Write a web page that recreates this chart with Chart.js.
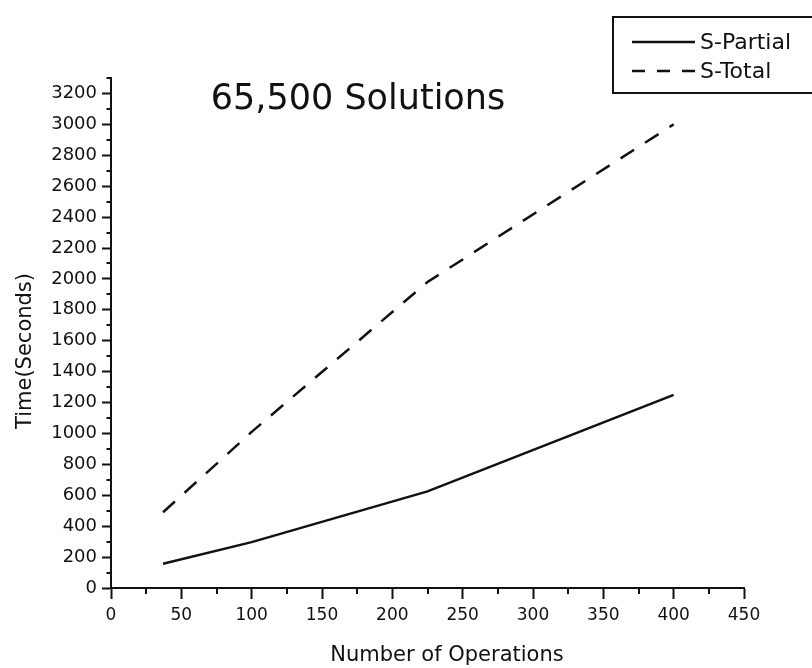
<!DOCTYPE html>
<html lang="en">
<head>
    <meta charset="UTF-8">
    <title>65,500 Solutions</title>
    <script src="https://cdn.jsdelivr.net/npm/chart.js@4.4.0/dist/chart.umd.min.js"></script>
    <style>
        body { margin: 0; background: #fff; }
        canvas { display: block; }
    </style>
</head>
<body>
<canvas id="timeChart" width="812" height="668"></canvas>
<script>

    // data
    var operations = [37, 100, 225, 400];
    var sPartial = [157, 297, 625, 1250];
    var sTotal = [490, 1010, 1980, 3000];
    var seriesNames = ["S-Partial", "S-Total"];
    var yTicks = [0, 200, 400, 600, 800, 1000, 1200, 1400, 1600, 1800, 2000,
        2200, 2400, 2600, 2800, 3000, 3200];
    var xTicks = [0, 50, 100, 150, 200, 250, 300, 350, 400, 450];

    var font = "DejaVu Sans";
    var ink = "#111";

    function points(ys) {
        return operations.map(function (x, i) { return {x: x, y: ys[i]}; });
    }

    // title, axis titles, legend box and minor ticks
    var extras = {
        id: 'extras',
        afterDraw: function (chart) {
            var ctx = chart.ctx;
            var xs = chart.scales.x, ys = chart.scales.y;
            var area = chart.chartArea;
            ctx.save();

            // minor ticks, halfway between the major ones
            ctx.strokeStyle = ink;
            ctx.lineWidth = 2;
            ctx.beginPath();
            for (var i = 0; i < xTicks.length - 1; i++) {
                var px = Math.round(xs.getPixelForValue((xTicks[i] + xTicks[i + 1]) / 2));
                ctx.moveTo(px, area.bottom);
                ctx.lineTo(px, area.bottom + 6);
            }
            for (var j = 0; j < yTicks.length; j++) {
                var py = Math.round(ys.getPixelForValue(yTicks[j] + 100));
                ctx.moveTo(area.left, py);
                ctx.lineTo(area.left - 4.5, py);
            }
            ctx.stroke();

            ctx.fillStyle = ink;
            ctx.textBaseline = 'middle';

            // title inside the plot
            ctx.font = "35px '" + font + "'";
            ctx.textAlign = 'center';
            ctx.fillText("65,500 Solutions", 358, 100);

            // axis titles
            ctx.font = "21px '" + font + "'";
            ctx.fillText("Number of Operations", 447, 656);
            ctx.save();
            ctx.translate(26, 351);
            ctx.rotate(-Math.PI / 2);
            ctx.fillText("Time(Seconds)", 0, 0);
            ctx.restore();

            // legend
            ctx.lineWidth = 2;
            ctx.strokeRect(613, 17, 230, 76);
            var rows = [42, 71];
            ctx.font = "22px '" + font + "'";
            ctx.textAlign = 'left';
            chart.data.datasets.forEach(function (ds, i) {
                ctx.beginPath();
                ctx.lineWidth = 2.5;
                ctx.setLineDash(ds.borderDash ? [13, 12] : []);
                ctx.moveTo(632, rows[i]);
                ctx.lineTo(695, rows[i]);
                ctx.stroke();
                ctx.setLineDash([]);
                ctx.fillText(ds.label, 700, rows[i] + 1);
            });

            ctx.restore();
        }
    };

    function plain(v) { return String(v); }

    var config = {
        type: 'line',
        data: {
            datasets: [{
                label: seriesNames[0],
                data: points(sPartial),
                borderColor: ink,
                borderWidth: 2.5,
                pointRadius: 0,
                tension: 0
            },
                {
                    label: seriesNames[1],
                    data: points(sTotal),
                    borderColor: ink,
                    borderWidth: 2.5,
                    borderDash: [16, 13],
                    pointRadius: 0,
                    tension: 0
                }]
        },
        options: {
            responsive: false,
            animation: false,
            devicePixelRatio: 1,
            layout: {
                padding: {top: 78, right: 68, left: 0, bottom: 0}
            },
            plugins: {
                legend: {display: false},
                title: {display: false},
                tooltip: {enabled: false}
            },
            scales: {
                x: {
                    type: 'linear',
                    min: 0,
                    max: 450,
                    ticks: {color: ink, padding: 6, font: {family: font, size: 17}, callback: plain},
                    grid: {drawOnChartArea: false, tickLength: 11, tickWidth: 2, tickColor: ink},
                    border: {color: ink, width: 2},
                    afterBuildTicks: function (scale) {
                        scale.ticks = xTicks.map(function (v) { return {value: v}; });
                    },
                    afterFit: function (scale) { scale.height = 80; }
                },
                y: {
                    min: 0,
                    max: 3300,
                    ticks: {color: ink, padding: 5, font: {family: font, size: 18}, callback: plain},
                    grid: {drawOnChartArea: false, tickLength: 9, tickWidth: 2, tickColor: ink},
                    border: {color: ink, width: 2},
                    afterBuildTicks: function (scale) {
                        scale.ticks = yTicks.map(function (v) { return {value: v}; });
                    },
                    afterFit: function (scale) { scale.width = 111; }
                }
            }
        },
        plugins: [extras]
    };

    window.onload = function () {
        var ctx = document.getElementById("timeChart").getContext("2d");
        window.timeChart = new Chart(ctx, config);
    };

</script>
</body>
</html>
